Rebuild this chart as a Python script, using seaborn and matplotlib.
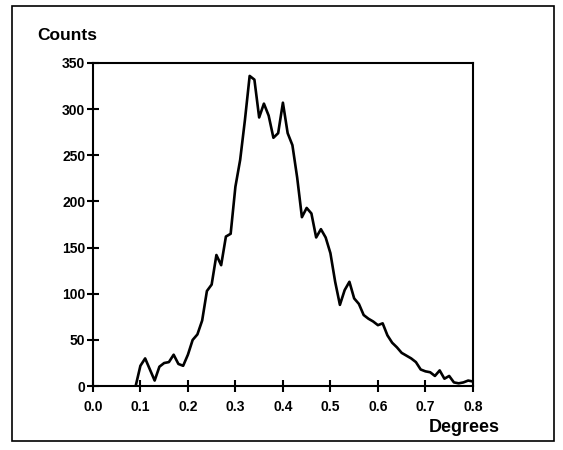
import numpy as np
import pandas as pd
import matplotlib
matplotlib.use("Agg")
import matplotlib.pyplot as plt
from matplotlib.patches import Rectangle
import seaborn as sns

# Angular distribution histogram (bin centres in degrees, counts per bin)
degrees = [0.09, 0.10, 0.11, 0.12, 0.13, 0.14, 0.15, 0.16, 0.17, 0.18,
           0.19, 0.20, 0.21, 0.22, 0.23, 0.24, 0.25, 0.26, 0.27, 0.28,
           0.29, 0.30, 0.31, 0.32, 0.33, 0.34, 0.35, 0.36, 0.37, 0.38,
           0.39, 0.40, 0.41, 0.42, 0.43, 0.44, 0.45, 0.46, 0.47, 0.48,
           0.49, 0.50, 0.51, 0.52, 0.53, 0.54, 0.55, 0.56, 0.57, 0.58,
           0.59, 0.60, 0.61, 0.62, 0.63, 0.64, 0.65, 0.66, 0.67, 0.68,
           0.69, 0.70, 0.71, 0.72, 0.73, 0.74, 0.75, 0.76, 0.77, 0.78,
           0.79, 0.80]
counts = [0, 22, 30, 18, 6, 21, 25, 26, 34, 24,
          22, 34, 50, 56, 71, 103, 110, 142, 131, 162,
          165, 216, 245, 288, 336, 332, 291, 306, 293, 269,
          274, 307, 274, 261, 226, 183, 193, 187, 161, 170,
          161, 144, 113, 88, 104, 113, 95, 89, 77, 73,
          70, 66, 68, 55, 47, 42, 36, 33, 30, 26,
          18, 16, 15, 11, 17, 8, 11, 4, 3, 4,
          6, 5]

x_ticks = [0.0, 0.1, 0.2, 0.3, 0.4, 0.5, 0.6, 0.7, 0.8]
y_ticks = [0, 50, 100, 150, 200, 250, 300, 350]

df = pd.DataFrame({"Degrees": degrees, "Counts": counts})

sns.set_style("ticks")
plt.rcParams["font.family"] = ["Liberation Sans", "DejaVu Sans"]
plt.rcParams["font.weight"] = "bold"
plt.rcParams["text.color"] = "black"

fig = plt.figure(figsize=(5.63, 4.5), dpi=100)
ax = fig.add_axes([0.165, 0.142, 0.675, 0.718])

sns.lineplot(data=df, x="Degrees", y="Counts", ax=ax, color="black",
             linewidth=1.9, estimator=None)

ax.set_xlim(0.0, 0.8)
ax.set_ylim(0, 350)
ax.set_xticks(x_ticks)
ax.set_yticks(y_ticks)
ax.set_xticklabels([f"{v:.1f}" for v in x_ticks], fontsize=10, fontweight="bold")
ax.set_yticklabels([str(v) for v in y_ticks], fontsize=10, fontweight="bold")
ax.tick_params(direction="inout", length=8, width=1.5, colors="black",
               labelcolor="black")
ax.tick_params(axis="x", pad=6)
ax.tick_params(axis="y", pad=1.5)

for side in ["left", "right", "top", "bottom"]:
    ax.spines[side].set_visible(True)
    ax.spines[side].set_linewidth(1.5)
    ax.spines[side].set_color("black")

ax.set_xlabel("")
ax.set_ylabel("")
fig.text(0.066, 0.922, "Counts", fontsize=12.5, fontweight="bold",
         color="black", ha="left", va="center")
fig.text(0.824, 0.051, "Degrees", fontsize=13, fontweight="bold",
         color="black", ha="center", va="center")

# Frame around the whole figure
fig.patches.append(Rectangle((0.021, 0.02), 0.963, 0.967, transform=fig.transFigure,
                             fill=False, edgecolor="black", linewidth=1.2))

fig.savefig("out.png", dpi=100, facecolor="white")
